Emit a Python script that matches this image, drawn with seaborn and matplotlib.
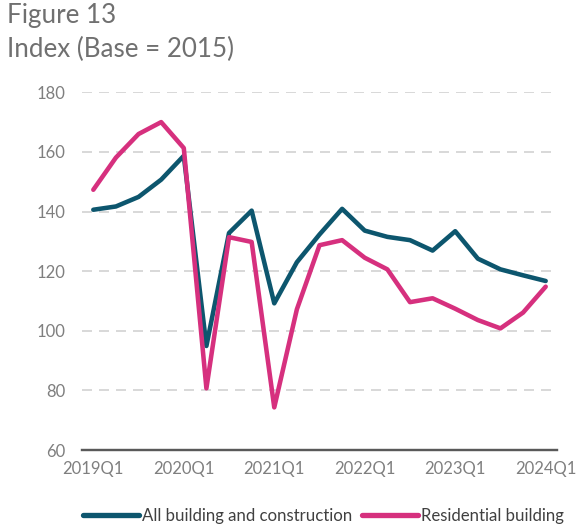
import numpy as np
import pandas as pd
import matplotlib
matplotlib.use("Agg")
import matplotlib.pyplot as plt
import seaborn as sns
from matplotlib.lines import Line2D

quarters = ["2019Q1", "2019Q2", "2019Q3", "2019Q4",
            "2020Q1", "2020Q2", "2020Q3", "2020Q4",
            "2021Q1", "2021Q2", "2021Q3", "2021Q4",
            "2022Q1", "2022Q2", "2022Q3", "2022Q4",
            "2023Q1", "2023Q2", "2023Q3", "2023Q4",
            "2024Q1"]
all_building = [140.6, 141.7, 144.9, 150.7, 158.7, 94.9, 132.8, 140.3, 109.2, 123.0,
                132.3, 140.9, 133.6, 131.5, 130.4, 126.9, 133.4, 124.2, 120.6, 118.6, 116.7]
residential = [147.3, 158.1, 166.0, 170.0, 161.3, 80.7, 131.4, 129.8, 74.3, 107.2,
               128.7, 130.4, 124.5, 120.6, 109.6, 110.9, 107.4, 103.6, 100.8, 106.1, 114.8]
series_names = ["All building and construction", "Residential building"]
colors = ["#0d566e", "#d6307e"]
title_lines = ["Figure 13", "Index (Base = 2015)"]
yticks = [60, 80, 100, 120, 140, 160, 180]

sns.set_theme(style="white")
plt.rcParams["font.family"] = ["Lato", "DejaVu Sans"]

df = pd.DataFrame({
    "pos": list(range(len(quarters))) * 2,
    "value": all_building + residential,
    "series": [series_names[0]] * len(quarters) + [series_names[1]] * len(quarters),
})

fig = plt.figure(figsize=(6, 5.5), dpi=96)
ax = fig.add_axes([82 / 576, 1 - 450 / 528, (557 - 82) / 576, (450 - 92.3) / 528])

sns.lineplot(data=df, x="pos", y="value", hue="series", palette=colors,
             linewidth=3.4, ax=ax, legend=False, zorder=3)

ax.set_xlim(-0.5, len(quarters) - 0.5)
ax.set_ylim(60, 180)
ax.set_yticks(yticks)
ax.set_yticklabels([str(v) for v in yticks])
major = list(range(0, len(quarters), 4))
ax.set_xticks(major)
ax.set_xticklabels([quarters[i] for i in major])
ax.set_xticks([i - 0.5 for i in major], minor=True)
ax.tick_params(axis="x", which="major", length=0, pad=8, labelsize=12.5, labelcolor="#7f7f7f")
ax.tick_params(axis="x", which="minor", length=5, width=1.8, color="#595959", direction="out")
ax.tick_params(axis="y", length=0, pad=12.5, labelsize=12.5, labelcolor="#7f7f7f")
ax.set_xlabel("")
ax.set_ylabel("")

for v in yticks[1:]:
    ax.axhline(v, color="#d9d9d9", linewidth=1.5, linestyle=(0, (5, 3.5)), zorder=1)

for s in ["left", "right", "top"]:
    ax.spines[s].set_visible(False)
ax.spines["bottom"].set_color("#595959")
ax.spines["bottom"].set_linewidth(1.8)
ax.spines["bottom"].set_zorder(4)

fig.text(7 / 576, 1 - 3 / 528, title_lines[0], ha="left", va="top",
         fontsize=19.5, color="#707070")
fig.text(7 / 576, 1 - 37 / 528, title_lines[1], ha="left", va="top",
         fontsize=19.5, color="#707070")

handles = [Line2D([], [], color=c, linewidth=4, solid_capstyle="round") for c in colors]
fig.legend(handles, series_names, loc="center", bbox_to_anchor=(0.562, 1 - 516 / 528),
           ncol=2, frameon=False, fontsize=12.6, handlelength=3.3, handletextpad=0.2,
           columnspacing=0.6, labelcolor="#404040")

fig.savefig("out.png", dpi=96)
